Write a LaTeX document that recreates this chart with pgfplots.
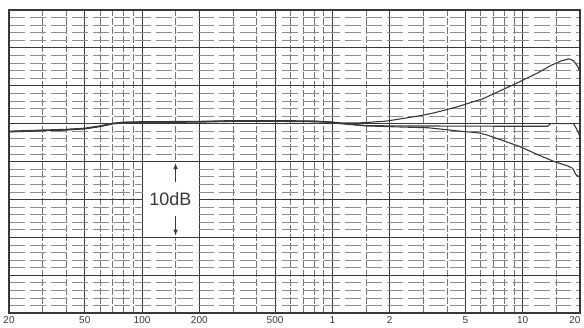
\documentclass[border=0pt]{standalone}
\usepackage{fontspec}
\setmainfont{Liberation Sans}
\usepackage{pgfplots}
\pgfplotsset{compat=1.18}
\usetikzlibrary{arrows.meta}
\definecolor{ink}{gray}{0.22}
\begin{document}
\begin{tikzpicture}
\begin{axis}[name=ax,
  scale only axis, width=571pt, height=303pt,
  xmode=log, xmin=20, xmax=20000, ymin=-25, ymax=15,
  xtick={20,50,100,200,500,1000,2000,5000,10000},
  xticklabels={20,50,100,200,500,1,2,5,10},
  extra x ticks={20000}, extra x tick labels={20},
  extra x tick style={xticklabel style={anchor=north east, xshift=4pt}},
  minor xtick={30,40,60,70,80,90,150,300,400,600,700,800,900,1500,3000,4000,6000,7000,8000,9000,15000},
  ytick={-25,-20,...,15}, yticklabels={},
  minor ytick={-24,-23,-22,-21,-19,-18,-17,-16,-14,-13,-12,-11,-9,-8,-7,-6,-4,-3,-2,-1,1,2,3,4,6,7,8,9,11,12,13,14},
  major tick length=0pt, minor tick length=0pt,
  grid=both,
  major x grid style={ink, line width=0.8pt},
  minor x grid style={black!55, line width=0.6pt, dash pattern=on 7pt off 2pt},
  major y grid style={ink, line width=0.8pt},
  minor y grid style={black!45, line width=0.6pt, dash pattern=on 16pt off 5pt},
  axis line style={ink, line width=1.1pt},
  xticklabel style={font=\fontsize{10}{12}\selectfont, text=ink},
]
% label box
\fill[white] ([xshift=0.6pt,yshift=-0.6pt]axis cs:100,-5) rectangle ([xshift=-0.6pt,yshift=0.6pt]axis cs:200,-15);
\node[font=\fontsize{18}{20}\selectfont, text=ink] at (axis cs:141,-10) {10dB};
\draw[ink, line width=0.9pt, -{Latex[length=6pt,width=4.5pt]}] (axis cs:150,-7.7) -- (axis cs:150,-5.2);
\draw[ink, line width=0.9pt, -{Latex[length=6pt,width=4.5pt]}] (axis cs:150,-12.2) -- (axis cs:150,-14.8);
% upper curve
\addplot[ink, line width=1.1pt, no markers] coordinates {(20,-1.05)(30,-0.9)(40,-0.8)(50,-0.65)(60,-0.35)(70,0)(80,0.15)(100,0.2)(200,0.25)(300,0.35)(500,0.35)(800,0.3)(1000,0.2)
 (1100,0.1)(1400,0.1)(1860,0.3)(2000,0.4)(2900,1.05)(3400,1.4)(4500,2.2)(6200,3.3)(9400,5.4)(12000,6.7)(14100,7.7)(16000,8.3)(17500,8.55)(18500,8.3)(19500,7.5)(20000,6.8)};
% middle curve
\addplot[ink, line width=1.1pt, no markers] coordinates {(20,-1.1)(30,-0.95)(40,-0.85)(50,-0.7)(60,-0.4)(70,-0.05)(80,0.1)(100,0.15)(200,0.2)(300,0.3)(500,0.3)(800,0.25)(1000,0.15)
 (1100,0.05)(1500,-0.25)(2000,-0.3)(5000,-0.33)(10000,-0.35)(13500,-0.35)(14000,0.0)(18500,0.0)(19500,-1.0)(20000,-1.8)};
% lower curve
\addplot[ink, line width=1.1pt, no markers] coordinates {(20,-1.0)(30,-0.85)(40,-0.75)(50,-0.6)(60,-0.3)(70,0.05)(80,0.2)(100,0.25)(200,0.3)(300,0.4)(500,0.4)(800,0.35)(1000,0.2)
 (1100,0.0)(1500,-0.3)(2000,-0.4)(3200,-0.55)(4700,-1.0)(5800,-1.2)(6500,-1.5)(8000,-2.3)(9600,-3.0)(12000,-4.1)(14600,-5.0)(17300,-5.6)(18300,-5.9)(19000,-6.7)(20000,-7.1)};
\node[anchor=north, font=\fontsize{10}{12}\selectfont, text=ink, inner sep=0.333em] at (axis cs:1360,-25) {\strut kHz};
\end{axis}
\pgfresetboundingbox
\path ([xshift=-9pt,yshift=-14pt]ax.south west) rectangle ([xshift=4pt,yshift=10pt]ax.north east);
\end{tikzpicture}
\end{document}
